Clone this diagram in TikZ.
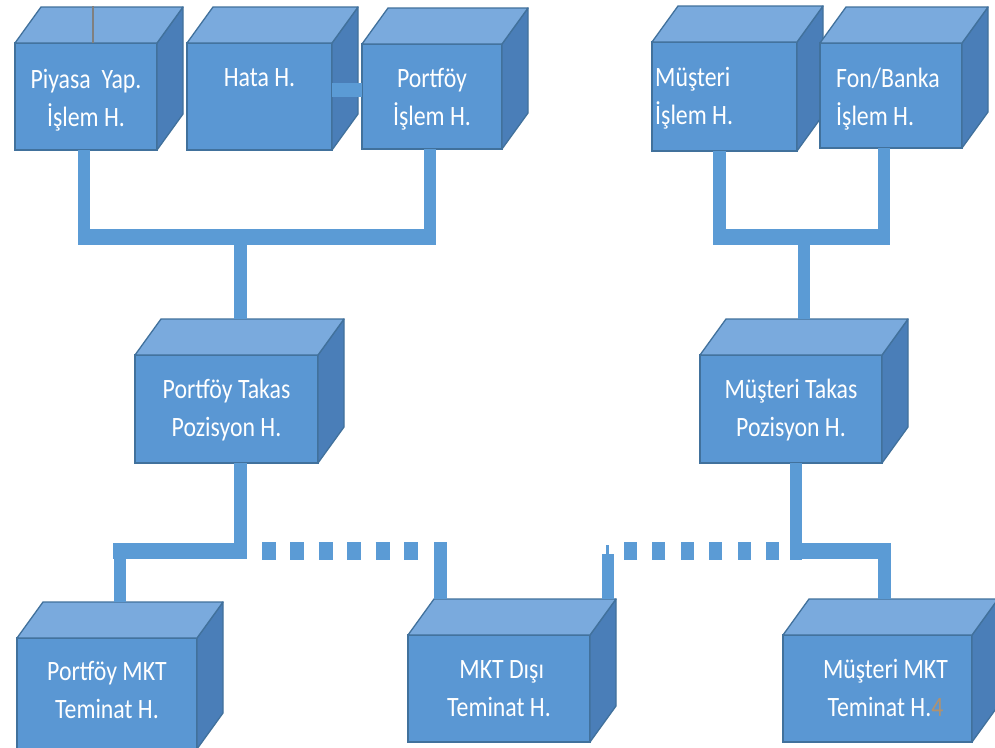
\documentclass[tikz,border=0pt]{standalone}
\usepackage{fontspec}
\setmainfont{Carlito}[FakeStretch=0.85]
\usetikzlibrary{calc}

\definecolor{facefront}{HTML}{5A97D3}
\definecolor{facetop}{HTML}{7AAADD}
\definecolor{faceside}{HTML}{4A7EB8}
\definecolor{faceedge}{HTML}{41719C}
\definecolor{wire}{HTML}{5B9BD5}
\definecolor{footnum}{HTML}{B09270}

\tikzset{
  front/.style={rectangle, draw=faceedge, fill=facefront, line width=1.3pt,
    inner sep=0pt, outer sep=0pt},
  topside/.style={draw=faceedge, fill=facetop, line width=1.3pt, line join=round},
  rightside/.style={draw=faceedge, fill=faceside, line width=1.3pt, line join=round},
  boxtext/.style={text=white, font=\fontsize{28}{38}\selectfont, inner sep=0pt},
  vwire/.style={draw=wire, line width=12.5pt},
  hwire/.style={draw=wire, line width=16pt},
  dotwire/.style={draw=wire, line width=18pt},
}

% a box seen in perspective: front face as a node, top and right faces behind it
% #1 name, (#2,#3) top-left and (#4,#5) bottom-right corner of the front face
\newcommand\isocube[5]{%
  \node[front, minimum width={(#4-#2)*1pt}, minimum height={(#5-#3)*1pt}]
    (#1) at ({(#2+#4)/2},{(#3+#5)/2}) {};
  \path[rightside] (#1.north east) -- ++(26,-36)
    -- ($(#1.south east)+(26,-36)$) -- (#1.south east) -- cycle;
  \path[topside] (#1.north west) -- ++(26,-36)
    -- ($(#1.north east)+(26,-36)$) -- (#1.north east) -- cycle;
  \coordinate (#1-back) at ($(#1.north)+(13,-36)$);
  \coordinate (#1-bl) at ($(#1.north west)+(26,-36)$);
  \coordinate (#1-br) at ($(#1.north east)+(26,-36)$);
}

\begin{document}
\begin{tikzpicture}[x=1pt,y=-1pt]
\useasboundingbox (0,0) rectangle (995,747);
\fill[white] (0,0) rectangle (995,747);

% boxes
\isocube{piyasa}{15}{43}{157}{150}
\isocube{hata}{187}{43}{332}{150}
\isocube{portislem}{362}{44}{502}{149}
\isocube{musislem}{652}{42}{797}{151}
\isocube{fonbanka}{820}{43}{962}{148}
\isocube{porttakas}{135}{355}{318}{463}
\isocube{mustakas}{700}{355}{882}{463}
\isocube{portmkt}{17}{638}{197}{749}
\isocube{mktdisi}{408}{635}{590}{742}
\isocube{musmkt}{783}{635}{972}{742}

\draw[gray, line width=1.2pt] ($(piyasa.north west)+(78,0)$) -- ++(0,-37);

% labels
\node[boxtext, anchor=base] (piyasa-t) at ($(piyasa.north)+(0,45)$)
  {\begin{tabular}[t]{@{}c@{}}Piyasa\ \ Yap.\\İşlem H.\end{tabular}};
\node[boxtext, anchor=base] (hata-t) at ($(hata.north)+(0,43)$)
  {\begin{tabular}[t]{@{}c@{}}Hata H.\end{tabular}};
\node[boxtext, anchor=base] (portislem-t) at ($(portislem.north)+(0,43)$)
  {\begin{tabular}[t]{@{}c@{}}Portföy\\İşlem H.\end{tabular}};
\node[boxtext, anchor=base west] (musislem-t) at ($(musislem.north west)+(3,44)$)
  {\begin{tabular}[t]{@{}l@{}}Müşteri\\İşlem H.\end{tabular}};
\node[boxtext, anchor=base west] (fonbanka-t) at ($(fonbanka.north west)+(16,44)$)
  {\begin{tabular}[t]{@{}l@{}}Fon/Banka\\İşlem H.\end{tabular}};
\node[boxtext, anchor=base] (porttakas-t) at ($(porttakas.north)+(0,43)$)
  {\begin{tabular}[t]{@{}c@{}}Portföy Takas\\Pozisyon H.\end{tabular}};
\node[boxtext, anchor=base] (mustakas-t) at ($(mustakas.north)+(0,43)$)
  {\begin{tabular}[t]{@{}c@{}}Müşteri Takas\\Pozisyon H.\end{tabular}};
\node[boxtext, anchor=base] (portmkt-t) at ($(portmkt.north)+(0,42)$)
  {\begin{tabular}[t]{@{}c@{}}Portföy MKT\\Teminat H.\end{tabular}};
\node[boxtext, anchor=base] (mktdisi-t) at ($(mktdisi.north)+(0,43)$)
  {\begin{tabular}[t]{@{}c@{}}\ MKT Dışı\\Teminat H.\end{tabular}};
\node[boxtext, anchor=base] (musmkt-t) at ($(musmkt.north)+(8,43)$)
  {\begin{tabular}[t]{@{}c@{}}Müşteri MKT\\Teminat H.\textcolor{footnum}{4}\end{tabular}};

% bus heights
\coordinate (busA) at (0,236.5);
\coordinate (busC) at (0,551);

% Hata H. -- Portföy İşlem H.
\draw[draw=wire, line width=14pt] ([yshift=6.5pt]hata.east) -- ([yshift=6.5pt]portislem.west);

% top left group
\draw[vwire] ([xshift=-2pt]piyasa.south) -- ([xshift=-2pt,yshift=-8pt]piyasa.south |- busA);
\draw[vwire] ([xshift=-2pt]portislem.south) -- ([xshift=-2pt,yshift=-8pt]portislem.south |- busA);
\draw[hwire] ([xshift=-8pt]piyasa.south |- busA) -- ([xshift=4pt]portislem.south |- busA);
\draw[vwire] ([xshift=1pt]porttakas-back |- busA) -- ([xshift=1pt]porttakas-back);

% top right group
\draw[vwire] ([xshift=-5pt]musislem.south) -- ([xshift=-5pt,yshift=-8pt]musislem.south |- busA);
\draw[vwire] ([xshift=-7pt]fonbanka.south) -- ([xshift=-7pt,yshift=-8pt]fonbanka.south |- busA);
\draw[hwire] ([xshift=-11pt]musislem.south |- busA) -- ([xshift=-1pt]fonbanka.south |- busA);
\draw[vwire] (mustakas-back |- busA) -- (mustakas-back);

% lower left group
\draw[vwire] ([xshift=14pt]porttakas.south) -- ([xshift=14pt,yshift=-8pt]porttakas.south |- busC);
\draw[hwire] ([xshift=-7pt]portmkt-back |- busC) -- ([xshift=20pt]porttakas.south |- busC);
\draw[vwire] (portmkt-back |- busC) -- (portmkt-back);
\draw[dotwire, dash pattern=on 14pt off 14.4pt]
  ([xshift=35.5pt]porttakas.south |- busC) -- ([xshift=-10pt]mktdisi-bl |- busC);
\draw[vwire] ([xshift=6.5pt,yshift=9pt]mktdisi-bl |- busC) -- ([xshift=6.5pt]mktdisi-bl);

% lower right group
\draw[vwire] ([xshift=-8pt,yshift=-3pt]mktdisi-br |- busC) -- ([xshift=-8pt]mktdisi-br);
\draw[draw=wire, line width=3pt] ([xshift=-8.5pt,yshift=-3pt]mktdisi-br |- busC) -- ++(0,-9);
\draw[dotwire, dash pattern=on 13pt off 15.4pt]
  ([xshift=-12pt]mustakas.south |- busC) -- ([xshift=7pt]mktdisi-br |- busC);
\draw[vwire] ([xshift=5pt]mustakas.south) -- ([xshift=5pt,yshift=-9pt]mustakas.south |- busC);
\draw[hwire] ([xshift=-1pt]mustakas.south |- busC) -- ([xshift=0pt]musmkt-back |- busC);
\draw[vwire] ([xshift=-6pt,yshift=8pt]musmkt-back |- busC) -- ([xshift=-6pt]musmkt-back);
\end{tikzpicture}
\end{document}
